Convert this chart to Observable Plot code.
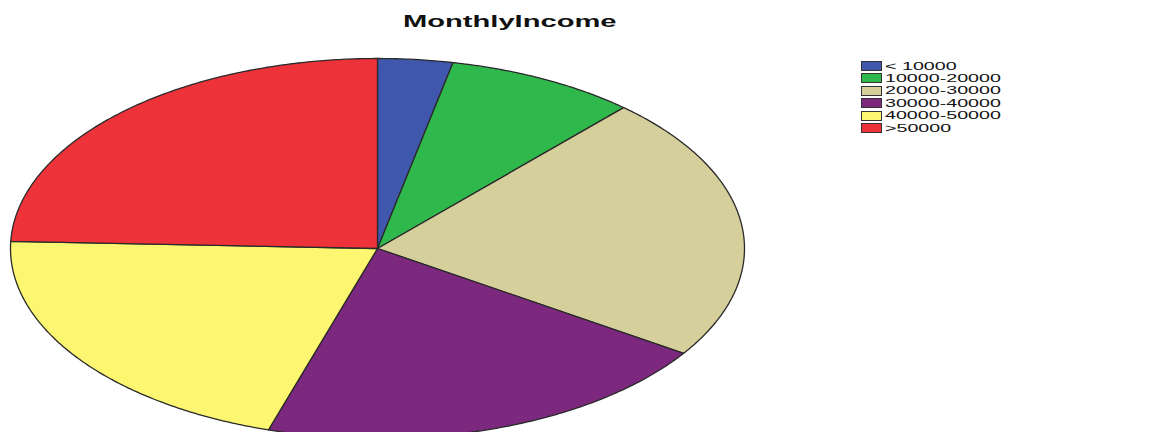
<!DOCTYPE html>
<html>
<head>
<meta charset="utf-8">
<script src="https://cdn.jsdelivr.net/npm/d3@7"></script>
<script src="https://cdn.jsdelivr.net/npm/@observablehq/plot@0.6"></script>
<style>
  html, body { margin: 0; padding: 0; background: #fff; }
  #wrap { position: relative; width: 1155px; height: 432px; overflow: hidden; font-family: "Liberation Sans", Arial, sans-serif; }
  #chart { position: absolute; left: 0; top: 0; }
  #title { position: absolute; left: 403px; top: 14px; font-size: 16px; line-height: 1; font-weight: bold; color: #111; transform: scaleX(1.82); transform-origin: left top; white-space: nowrap; }
  .row { position: absolute; left: 861px; height: 12px; }
  .sw { position: absolute; left: 0; top: 0; width: 19px; height: 8px; border: 0.8px solid #333; }
  .lab { position: absolute; left: 24px; top: 0.5px; font-size: 10.2px; line-height: 1; color: #111; transform: scaleX(1.93); transform-origin: left top; white-space: nowrap; }
</style>
</head>
<body>
<div id="wrap">
  <div id="chart"></div>
  <div id="title">MonthlyIncome</div>
  <div id="legend"></div>
</div>
<script>
// Data (share of respondents, %)
const categories = ["< 10000", "10000-20000", "20000-30000", "30000-40000", "40000-50000", ">50000"];
const shares = [3.3, 8.4, 22.6, 20.5, 20.8, 24.4];
const colors = ["#3f58ad", "#2fb84b", "#d4cf9b", "#7d287f", "#fcf670", "#ee3239"];
const chartTitle = "MonthlyIncome";

const table = categories.map((c, i) => ({category: c, value: shares[i]}));
const arcs = d3.pie().sort(null).value(d => d.value)(table);

// Slice outlines on the unit circle (y up), mapped to the ellipse by Plot's x/y scales
const pts = [];
for (const a of arcs) {
  const cat = a.data.category;
  pts.push({category: cat, x: 0, y: 0});
  const n = Math.max(4, Math.ceil((a.endAngle - a.startAngle) / (2 * Math.PI) * 720));
  for (let k = 0; k <= n; k++) {
    const t = a.startAngle + (a.endAngle - a.startAngle) * k / n;
    pts.push({category: cat, x: Math.sin(t), y: Math.cos(t)});
  }
  pts.push({category: cat, x: 0, y: 0});
}

const plot = Plot.plot({
  width: 1155,
  height: 432,
  margin: 0,
  x: {domain: [-1, 1], range: [10, 744], axis: null},
  y: {domain: [-1, 1], range: [438, 58], axis: null},
  color: {domain: categories, range: colors},
  marks: [
    Plot.line(pts, {x: "x", y: "y", z: "category", fill: "category", stroke: "#2a2a2a", strokeWidth: 1.3, strokeLinejoin: "round", curve: "linear"})
  ]
});
document.getElementById("chart").appendChild(plot);
document.getElementById("title").textContent = chartTitle;

const legend = document.getElementById("legend");
categories.forEach((c, i) => {
  const row = document.createElement("div");
  row.className = "row";
  row.style.top = (61 + i * 12.4) + "px";
  const sw = document.createElement("div");
  sw.className = "sw";
  sw.style.background = colors[i];
  const lab = document.createElement("div");
  lab.className = "lab";
  lab.textContent = c;
  row.appendChild(sw);
  row.appendChild(lab);
  legend.appendChild(row);
});
</script>
</body>
</html>
